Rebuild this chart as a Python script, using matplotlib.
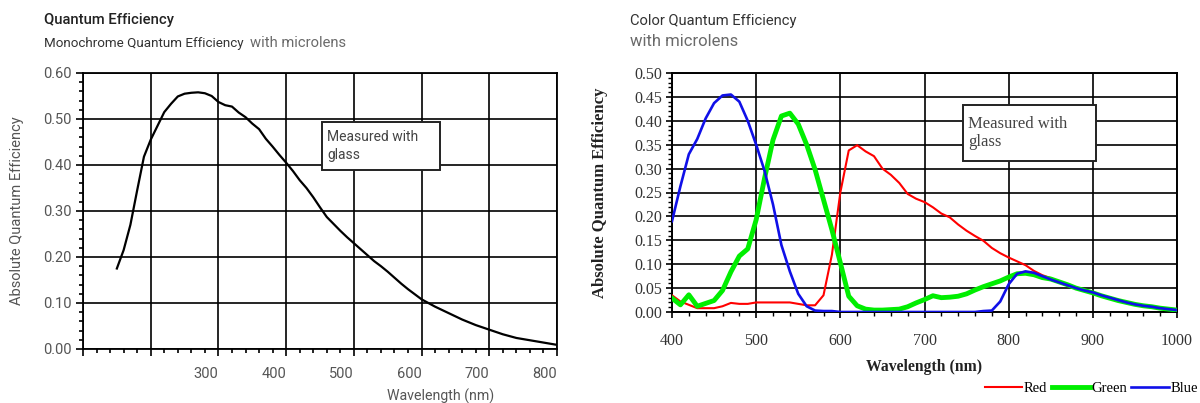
import matplotlib.pyplot as plt
from matplotlib.patches import Rectangle
from matplotlib.ticker import MultipleLocator

# monochrome QE (left chart)
mono_wl = [150, 160, 170, 180, 190, 200, 210, 220, 230, 240, 250, 260, 270, 280, 290,
           300, 310, 320, 330, 340, 350, 360, 370, 380, 390, 400, 410, 420, 430, 440,
           450, 460, 470, 480, 490, 500, 510, 520, 530, 540, 550, 560, 570, 580, 590,
           600, 620, 640, 660, 680, 700, 720, 740, 760, 780, 800]
mono_qe = [0.175, 0.215, 0.27, 0.345, 0.418, 0.455, 0.485, 0.515, 0.533, 0.549, 0.555,
           0.557, 0.558, 0.556, 0.55, 0.537, 0.530, 0.527, 0.514, 0.504, 0.490, 0.478,
           0.457, 0.440, 0.422, 0.405, 0.387, 0.367, 0.350, 0.330, 0.308, 0.287, 0.272,
           0.257, 0.243, 0.230, 0.217, 0.204, 0.191, 0.180, 0.168, 0.155, 0.142, 0.130,
           0.119, 0.108, 0.092, 0.078, 0.064, 0.052, 0.042, 0.032, 0.024, 0.019, 0.014,
           0.009]

# color QE (right chart), 400..1000 nm every 10 nm
color_wl = list(range(400, 1001, 10))
red_qe = [0.035, 0.022, 0.015, 0.008, 0.008, 0.008, 0.012, 0.019, 0.017, 0.017,
          0.02, 0.02, 0.02, 0.02, 0.02, 0.017, 0.014, 0.014, 0.035, 0.12,
          0.25, 0.338, 0.349, 0.336, 0.326, 0.30, 0.287, 0.27, 0.247, 0.237,
          0.23, 0.219, 0.206, 0.198, 0.183, 0.17, 0.159, 0.149, 0.134, 0.123,
          0.114, 0.106, 0.098, 0.086, 0.077, 0.071, 0.063, 0.056, 0.051, 0.045,
          0.04, 0.034, 0.029, 0.025, 0.02, 0.016, 0.013, 0.011, 0.009, 0.007,
          0.005]
green_qe = [0.029, 0.015, 0.036, 0.012, 0.018, 0.024, 0.045, 0.084, 0.117, 0.132,
            0.193, 0.28, 0.36, 0.41, 0.416, 0.393, 0.35, 0.298, 0.235, 0.172,
            0.103, 0.033, 0.013, 0.006, 0.004, 0.004, 0.005, 0.006, 0.011, 0.019,
            0.026, 0.034, 0.03, 0.031, 0.033, 0.038, 0.046, 0.053, 0.059, 0.065,
            0.073, 0.08, 0.081, 0.078, 0.072, 0.069, 0.063, 0.057, 0.05, 0.045,
            0.04, 0.034, 0.029, 0.024, 0.02, 0.016, 0.013, 0.011, 0.008, 0.006,
            0.004]
blue_qe = [0.19, 0.263, 0.33, 0.362, 0.405, 0.437, 0.453, 0.455, 0.44, 0.40,
           0.35, 0.295, 0.225, 0.14, 0.085, 0.038, 0.012, 0.003, 0.002, 0.002,
           0.0, 0.0, 0.0, 0.0, 0.0, 0.0, 0.0, 0.0, 0.0, 0.0,
           0.0, 0.0, 0.0, 0.0, 0.0, 0.0, 0.0, 0.002, 0.003, 0.022,
           0.058, 0.08, 0.085, 0.082, 0.075, 0.068, 0.062, 0.056, 0.05, 0.045,
           0.041, 0.035, 0.03, 0.025, 0.02, 0.016, 0.013, 0.011, 0.008, 0.006,
           0.004]

mono_xticks = [100, 200, 300, 400, 500, 600, 700, 800]
mono_xlabels = ["", "", "300", "400", "500", "600", "700", "800"]
mono_yticks = [0.0, 0.1, 0.2, 0.3, 0.4, 0.5, 0.6]
color_xticks = [400, 500, 600, 700, 800, 900, 1000]
color_yticks = [0.0, 0.05, 0.1, 0.15, 0.2, 0.25, 0.3, 0.35, 0.4, 0.45, 0.5]

fig = plt.figure(figsize=(12, 4.03), dpi=100)

sans = "Roboto"
serif = "Liberation Serif"

# ---------------- left chart ----------------
ax1 = fig.add_axes([83/1200, 1-349/403, 474/1200, 276/403])
ax1.plot(mono_wl, mono_qe, color="black", lw=1.6, zorder=3)
ax1.set_xlim(100, 800)
ax1.set_ylim(0, 0.6)
ax1.set_xticks(mono_xticks)
ax1.set_xticklabels(mono_xlabels)
ax1.set_yticks(mono_yticks)
ax1.set_yticklabels([f"{v:.2f}" for v in mono_yticks])
ax1.xaxis.set_minor_locator(MultipleLocator(20))
ax1.yaxis.set_minor_locator(MultipleLocator(0.02))
ax1.grid(True, which="major", color="black", lw=1.2)
ax1.tick_params(which="major", direction="out", length=5, width=1.2, color="black",
                labelsize=10.5, labelcolor="#555555", pad=3)
ax1.tick_params(axis="x", which="major", pad=8)
ax1.tick_params(which="minor", direction="out", length=3, width=1.2, color="black")
for lbl in ax1.get_xticklabels():
    lbl.set_ha("right")
    lbl.set_family(sans)
for lbl in ax1.get_yticklabels():
    lbl.set_family(sans)
for sp in ax1.spines.values():
    sp.set_linewidth(1.3)

fig.text(17/1200, 1-211/403, "Absolute Quantum Efficiency", family=sans, fontsize=10.5,
         color="#555555", ha="center", va="center", rotation=90)
fig.text(441/1200, 1-396/403, "Wavelength (nm)", family=sans, fontsize=10.2,
         color="#555555", ha="center", va="center")
fig.text(44/1200, 1-20/403, "Quantum Efficiency", family=sans, fontsize=10.6,
         fontweight="medium", color="#222222", va="center")
fig.text(44/1200, 1-43/403, "Monochrome Quantum Efficiency", family=sans, fontsize=9.6,
         color="#333333", va="center")
fig.text(250/1200, 1-43/403, "with microlens", family=sans, fontsize=10.6,
         color="#6a6a6a", va="center")

fig.patches.append(Rectangle((322/1200, 1-170/403), 118/1200, 48/403,
                             transform=fig.transFigure, facecolor="white",
                             edgecolor="#222222", lw=1.4, zorder=5))
fig.text(327/1200, 1-146/403, "Measured with\nglass", family=sans, fontsize=10,
         color="#444444", va="center", linespacing=1.3, zorder=6)

# ---------------- right chart ----------------
ax2 = fig.add_axes([672/1200, 1-312/403, 505/1200, 239/403])
ax2.plot(color_wl, red_qe, color="#ff0000", lw=1.5, label="Red", zorder=3)
ax2.plot(color_wl, green_qe, color="#00ee00", lw=3.5, label="Green", zorder=3)
ax2.plot(color_wl, blue_qe, color="#1010e8", lw=1.9, label="Blue", zorder=3)
ax2.set_xlim(400, 1000)
ax2.set_ylim(0, 0.5)
ax2.set_xticks(color_xticks)
ax2.set_yticks(color_yticks)
ax2.set_yticklabels([f"{v:.2f}" for v in color_yticks])
ax2.xaxis.set_minor_locator(MultipleLocator(20))
ax2.yaxis.set_minor_locator(MultipleLocator(0.01))
ax2.grid(True, which="major", color="black", lw=1.2)
ax2.tick_params(which="major", direction="out", length=4, width=1.2, color="black",
                labelsize=11.5, labelcolor="#333333", pad=3)
ax2.tick_params(axis="x", which="major", pad=11)
ax2.tick_params(which="minor", direction="out", length=3, width=1.0, color="black")
for lbl in ax2.get_xticklabels() + ax2.get_yticklabels():
    lbl.set_family(serif)
for sp in ax2.spines.values():
    sp.set_linewidth(1.4)

fig.text(600/1200, 1-193/403, "Absolute Quantum Efficiency", family=serif, fontsize=12,
         fontweight="bold", color="#222222", ha="center", va="center", rotation=90)
fig.text(924/1200, 1-367/403, "Wavelength (nm)", family=serif, fontsize=11.3,
         fontweight="bold", color="#222222", ha="center", va="center")

fig.text(630/1200, 1-21/403, "Color Quantum Efficiency", family=sans, fontsize=10.6,
         color="#333333", va="center")
fig.text(630/1200, 1-42/403, "with microlens", family=sans, fontsize=12,
         color="#6a6a6a", va="center")

fig.patches.append(Rectangle((963/1200, 1-161/403), 133/1200, 56/403,
                             transform=fig.transFigure, facecolor="white",
                             edgecolor="#222222", lw=1.4, zorder=5))
fig.text(968/1200, 1-133/403, "Measured with\nglass", family=serif, fontsize=12,
         color="#444444", va="center", linespacing=1.2, zorder=6)

leg = fig.legend(*ax2.get_legend_handles_labels(), loc="center right",
                 bbox_to_anchor=(1198/1200, 1-388/403), ncol=3, frameon=False,
                 handlelength=2.6, handletextpad=0.1, columnspacing=0.3,
                 borderaxespad=0, borderpad=0, prop={"family": serif, "size": 10.5})

fig.savefig("out.png", dpi=100)
